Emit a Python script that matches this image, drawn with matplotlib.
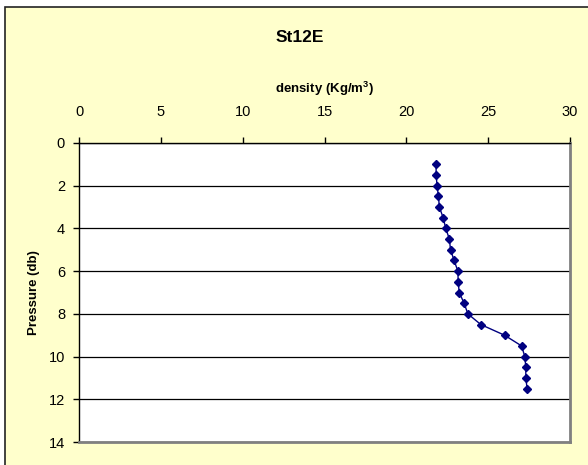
import matplotlib.pyplot as plt
from matplotlib.patches import Rectangle

plt.rcParams['font.family'] = ['Liberation Sans', 'DejaVu Sans']

# station St12E density profile
pressure = [1.0, 1.5, 2.0, 2.5, 3.0, 3.5, 4.0, 4.5, 5.0, 5.5, 6.0,
            6.5, 7.0, 7.5, 8.0, 8.5, 9.0, 9.5, 10.0, 10.5, 11.0, 11.5]
density = [21.82, 21.82, 21.88, 21.96, 22.02, 22.25, 22.41, 22.63, 22.70, 22.92, 23.15,
           23.17, 23.23, 23.53, 23.76, 24.55, 26.00, 27.04, 27.24, 27.30, 27.30, 27.38]
x_ticks = [0, 5, 10, 15, 20, 25, 30]
y_ticks = [0, 2, 4, 6, 8, 10, 12, 14]

fig = plt.figure(figsize=(5.88, 4.65), dpi=100)
fig.patch.set_facecolor('white')

# chart area background with border on left/top
bg = Rectangle((5 / 588, -0.05), 1.1, 1.05 - 7 / 465, transform=fig.transFigure,
               facecolor='#FFFFCC', edgecolor='#222222', linewidth=1.2, zorder=-5)
fig.patches.append(bg)

ax = fig.add_axes([79 / 588, (465 - 442) / 465, (570 - 79) / 588, (442 - 143) / 465])
ax.set_facecolor('white')

ax.plot(density, pressure, color='#000080', linewidth=1, marker='D', markersize=4.5,
        markerfacecolor='#000080', markeredgecolor='#000080', clip_on=False, zorder=3)

ax.set_xlim(0, 30)
ax.set_ylim(14, 0)
ax.set_xticks(x_ticks)
ax.set_yticks(y_ticks)
ax.xaxis.tick_top()
ax.xaxis.set_label_position('top')
ax.tick_params(axis='both', direction='out', length=4, width=1, color='black',
               labelsize=10.5)
ax.tick_params(axis='x', pad=13)
ax.tick_params(axis='y', pad=6)

ax.grid(axis='y', color='black', linewidth=0.9)
ax.set_axisbelow(True)

for side in ['right', 'bottom']:
    ax.spines[side].set_color('#808080')
    ax.spines[side].set_linewidth(2)
for side in ['left', 'top']:
    ax.spines[side].set_color('black')
    ax.spines[side].set_linewidth(1)

ax.set_xlabel('density (Kg/m$\\mathregular{^3}$)', fontsize=9.5, fontweight='bold', labelpad=9)
ax.set_ylabel('Pressure (db)', fontsize=9.5, fontweight='bold', labelpad=6)

fig.text(300 / 588, 1 - 37 / 465, 'St12E', ha='center', va='center',
         fontsize=12.5, fontweight='bold')

fig.savefig('out.png', dpi=100)
